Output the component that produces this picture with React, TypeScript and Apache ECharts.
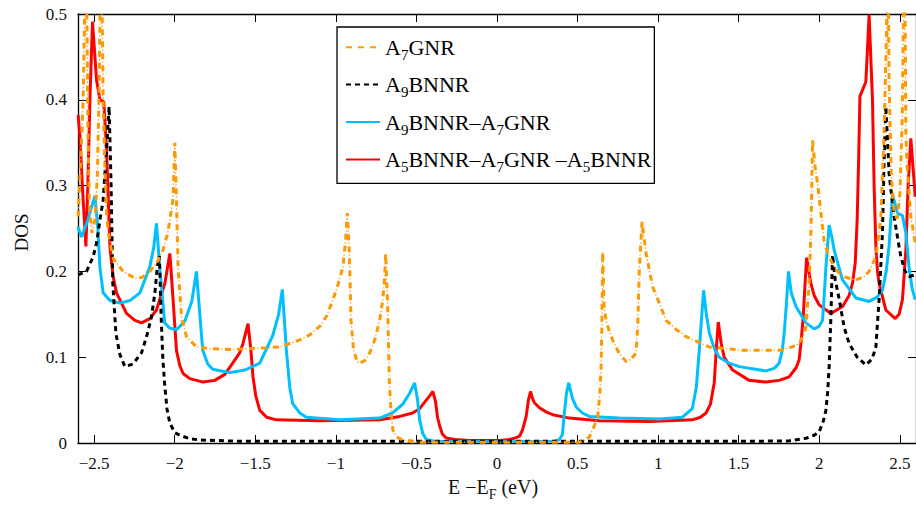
import React, { useEffect, useRef } from "react";
import * as echarts from "echarts";

const FONT = "'Liberation Serif', 'Times New Roman', Times, 'DejaVu Serif', serif";

const energyTicks = [-2.5, -2, -1.5, -1, -0.5, 0, 0.5, 1, 1.5, 2, 2.5];

const seriesNames = ["A7GNR", "A9BNNR", "A9BNNR–A7GNR", "A5BNNR–A7GNR–A5BNNR"];
const legendLabels = [
  "{m|A}{s|7}{m|GNR}",
  "{m|A}{s|9}{m|BNNR}",
  "{m|A}{s|9}{m|BNNR–A}{s|7}{m|GNR}",
  "{m|A}{s|5}{m|BNNR–A}{s|7}{m|GNR –A}{s|5}{m|BNNR}",
];

// A7GNR (orange dash-dot)
const a7gnr: [number, number][] = [
  [-2.599, 0.264], [-2.583, 0.33], [-2.568, 0.4], [-2.557, 0.52], [-2.551, 0.62],
  [-2.545, 0.5], [-2.538, 0.36], [-2.53, 0.28], [-2.514, 0.245], [-2.495, 0.26],
  [-2.48, 0.31], [-2.468, 0.42], [-2.457, 0.62], [-2.444, 0.4], [-2.433, 0.322],
  [-2.423, 0.27], [-2.412, 0.245], [-2.382, 0.215], [-2.32, 0.2], [-2.247, 0.192],
  [-2.204, 0.193], [-2.154, 0.2], [-2.105, 0.212], [-2.072, 0.225], [-2.043, 0.245],
  [-2.03, 0.26], [-2.01, 0.285], [-1.999, 0.35], [-1.989, 0.283], [-1.979, 0.205],
  [-1.958, 0.147], [-1.927, 0.124], [-1.865, 0.112], [-1.782, 0.11], [-1.638, 0.109],
  [-1.431, 0.111], [-1.348, 0.112], [-1.224, 0.12], [-1.162, 0.126], [-1.1, 0.136],
  [-1.057, 0.148], [-1.018, 0.167], [-0.986, 0.185], [-0.956, 0.205], [-0.94, 0.235],
  [-0.929, 0.268], [-0.916, 0.221], [-0.906, 0.143], [-0.89, 0.108], [-0.868, 0.095],
  [-0.852, 0.093], [-0.821, 0.096], [-0.79, 0.105], [-0.759, 0.12], [-0.728, 0.143],
  [-0.71, 0.165], [-0.698, 0.19], [-0.691, 0.221], [-0.679, 0.163], [-0.668, 0.07],
  [-0.657, 0.035], [-0.646, 0.015], [-0.623, 0.007], [-0.584, 0.0035], [-0.511, 0.001],
  [0.511, 0.001], [0.542, 0.003], [0.573, 0.007], [0.604, 0.02], [0.625, 0.031],
  [0.639, 0.06], [0.646, 0.089], [0.651, 0.14], [0.656, 0.223], [0.664, 0.16],
  [0.677, 0.143], [0.697, 0.13], [0.718, 0.12], [0.759, 0.104], [0.801, 0.095],
  [0.834, 0.098], [0.863, 0.105], [0.874, 0.14], [0.883, 0.202], [0.9, 0.258],
  [0.925, 0.221], [0.966, 0.182], [1.007, 0.163], [1.049, 0.143], [1.107, 0.133],
  [1.173, 0.124], [1.255, 0.117], [1.317, 0.112], [1.524, 0.108], [1.751, 0.108],
  [1.832, 0.112], [1.875, 0.116], [1.9, 0.125], [1.917, 0.136], [1.937, 0.186],
  [1.948, 0.245], [1.958, 0.353], [1.975, 0.32], [1.989, 0.303], [2.01, 0.268],
  [2.03, 0.235], [2.061, 0.217], [2.099, 0.203], [2.144, 0.194], [2.227, 0.19],
  [2.278, 0.194], [2.309, 0.2], [2.351, 0.217], [2.371, 0.245], [2.382, 0.264],
  [2.402, 0.361], [2.417, 0.478], [2.424, 0.62], [2.433, 0.42], [2.447, 0.31],
  [2.465, 0.265], [2.485, 0.262], [2.5, 0.29], [2.515, 0.38], [2.523, 0.52],
  [2.529, 0.62], [2.537, 0.361], [2.545, 0.322], [2.568, 0.264], [2.595, 0.233],
];

// A9BNNR (black dashed)
const a9bnnr: [number, number][] = [
  [-2.599, 0.196], [-2.547, 0.2], [-2.506, 0.217], [-2.483, 0.235], [-2.464, 0.26],
  [-2.444, 0.283], [-2.423, 0.342], [-2.407, 0.392], [-2.395, 0.303], [-2.384, 0.186],
  [-2.365, 0.128], [-2.34, 0.103], [-2.309, 0.089], [-2.26, 0.092], [-2.206, 0.105],
  [-2.173, 0.125], [-2.144, 0.147], [-2.123, 0.175], [-2.108, 0.205], [-2.095, 0.218],
  [-2.084, 0.147], [-2.074, 0.1], [-2.063, 0.07], [-2.048, 0.04], [-2.03, 0.023],
  [-1.999, 0.012], [-1.968, 0.009], [-1.906, 0.005], [-1.844, 0.0035], [-1.596, 0.002],
  [1.6, 0.002], [1.813, 0.0025], [1.917, 0.0055], [1.968, 0.009], [1.999, 0.013],
  [2.024, 0.025], [2.041, 0.038], [2.052, 0.06], [2.061, 0.089], [2.072, 0.147],
  [2.082, 0.219], [2.099, 0.19], [2.124, 0.167], [2.154, 0.135], [2.185, 0.116],
  [2.235, 0.1], [2.289, 0.091], [2.328, 0.098], [2.351, 0.112], [2.371, 0.167],
  [2.392, 0.245], [2.402, 0.33], [2.413, 0.392], [2.424, 0.35], [2.433, 0.314],
  [2.464, 0.264], [2.485, 0.24], [2.506, 0.217], [2.533, 0.2], [2.557, 0.194],
  [2.595, 0.196],
];

// A9BNNR–A7GNR (cyan)
const a9bnnrA7gnr: [number, number][] = [
  [-2.601, 0.252], [-2.578, 0.24], [-2.539, 0.26], [-2.495, 0.288], [-2.477, 0.25],
  [-2.464, 0.205], [-2.444, 0.175], [-2.402, 0.166], [-2.34, 0.163], [-2.278, 0.166],
  [-2.216, 0.175], [-2.155, 0.205], [-2.13, 0.228], [-2.113, 0.256], [-2.093, 0.205],
  [-2.062, 0.14], [-2.031, 0.134], [-1.989, 0.132], [-1.937, 0.142], [-1.894, 0.165],
  [-1.865, 0.2], [-1.844, 0.15], [-1.826, 0.108], [-1.795, 0.092], [-1.764, 0.086],
  [-1.658, 0.082], [-1.565, 0.085], [-1.472, 0.093], [-1.392, 0.125], [-1.355, 0.15],
  [-1.332, 0.179], [-1.307, 0.108], [-1.286, 0.065], [-1.268, 0.046], [-1.224, 0.035],
  [-1.183, 0.03], [-0.976, 0.027], [-0.728, 0.029], [-0.648, 0.035], [-0.586, 0.045],
  [-0.542, 0.058], [-0.511, 0.07], [-0.493, 0.05], [-0.48, 0.027], [-0.462, 0.012],
  [-0.439, 0.004], [-0.387, 0.002], [0.0, 0.0015], [0.356, 0.002], [0.387, 0.004],
  [0.406, 0.01], [0.418, 0.035], [0.431, 0.058], [0.445, 0.07], [0.468, 0.052],
  [0.491, 0.042], [0.53, 0.035], [0.573, 0.031], [0.759, 0.029], [1.007, 0.028],
  [1.15, 0.03], [1.212, 0.04], [1.237, 0.065], [1.255, 0.108], [1.271, 0.15],
  [1.282, 0.178], [1.299, 0.15], [1.318, 0.128], [1.349, 0.11], [1.379, 0.1],
  [1.441, 0.093], [1.503, 0.089], [1.669, 0.084], [1.72, 0.087], [1.751, 0.093],
  [1.77, 0.108], [1.782, 0.128], [1.795, 0.16], [1.809, 0.2], [1.826, 0.175],
  [1.855, 0.159], [1.917, 0.14], [1.968, 0.133], [1.999, 0.136], [2.02, 0.143],
  [2.03, 0.17], [2.041, 0.205], [2.061, 0.254], [2.08, 0.238], [2.092, 0.225],
  [2.144, 0.19], [2.227, 0.169], [2.309, 0.165], [2.359, 0.17], [2.392, 0.178],
  [2.415, 0.2], [2.433, 0.23], [2.454, 0.29], [2.485, 0.268], [2.516, 0.265],
  [2.537, 0.245], [2.557, 0.205], [2.576, 0.18], [2.595, 0.167],
];

// A5BNNR–A7GNR–A5BNNR (red)
const a5bnnrA7gnrA5bnnr: [number, number][] = [
  [-2.599, 0.382], [-2.588, 0.357], [-2.57, 0.29], [-2.551, 0.229], [-2.539, 0.3],
  [-2.526, 0.4], [-2.51, 0.491], [-2.485, 0.423], [-2.464, 0.4], [-2.44, 0.398],
  [-2.423, 0.342], [-2.402, 0.229], [-2.383, 0.195], [-2.361, 0.175], [-2.299, 0.151],
  [-2.247, 0.143], [-2.206, 0.14], [-2.154, 0.145], [-2.113, 0.155], [-2.061, 0.186],
  [-2.03, 0.221], [-2.01, 0.167], [-1.989, 0.108], [-1.968, 0.09], [-1.948, 0.081],
  [-1.906, 0.075], [-1.824, 0.071], [-1.751, 0.073], [-1.689, 0.08], [-1.64, 0.093],
  [-1.597, 0.105], [-1.576, 0.116], [-1.545, 0.139], [-1.528, 0.11], [-1.514, 0.077],
  [-1.497, 0.055], [-1.472, 0.038], [-1.429, 0.03], [-1.369, 0.027], [-1.1, 0.026],
  [-0.728, 0.027], [-0.604, 0.031], [-0.524, 0.035], [-0.48, 0.04], [-0.439, 0.05],
  [-0.418, 0.055], [-0.398, 0.06], [-0.381, 0.048], [-0.369, 0.03], [-0.356, 0.02],
  [-0.338, 0.01], [-0.315, 0.006], [-0.263, 0.004], [-0.17, 0.003], [0.016, 0.003],
  [0.077, 0.004], [0.115, 0.006], [0.14, 0.008], [0.158, 0.015], [0.181, 0.031],
  [0.195, 0.05], [0.208, 0.06], [0.22, 0.052], [0.232, 0.047], [0.263, 0.041],
  [0.307, 0.036], [0.346, 0.033], [0.449, 0.029], [0.635, 0.026], [0.945, 0.025],
  [1.212, 0.027], [1.262, 0.03], [1.297, 0.035], [1.324, 0.045], [1.348, 0.07],
  [1.361, 0.11], [1.373, 0.141], [1.392, 0.115], [1.41, 0.1], [1.462, 0.085],
  [1.565, 0.073], [1.669, 0.071], [1.751, 0.073], [1.813, 0.077], [1.857, 0.088],
  [1.875, 0.097], [1.888, 0.12], [1.9, 0.147], [1.921, 0.216], [1.948, 0.186],
  [1.968, 0.172], [1.999, 0.161], [2.072, 0.151], [2.144, 0.159], [2.185, 0.172],
  [2.206, 0.186], [2.223, 0.21], [2.235, 0.26], [2.244, 0.33], [2.252, 0.404],
  [2.289, 0.421], [2.309, 0.499], [2.33, 0.4], [2.34, 0.3], [2.351, 0.229],
  [2.361, 0.2], [2.371, 0.186], [2.413, 0.155], [2.471, 0.145], [2.495, 0.15],
  [2.516, 0.167], [2.537, 0.225], [2.551, 0.3], [2.568, 0.355], [2.582, 0.32],
  [2.595, 0.287],
];

const toMinus = (v: number) => String(v).replace("-", "\u2212");

export default function App() {
  const ref = useRef<HTMLDivElement>(null);
  useEffect(() => {
    if (!ref.current) return;
    const chart = echarts.init(ref.current, null, { renderer: "svg" });
    const axisLine = { show: true, onZero: false, lineStyle: { color: "#000", width: 1.3 } };
    const richSub = {
      m: { fontFamily: FONT, fontSize: 22, color: "#000", lineHeight: 30 },
      s: { fontFamily: FONT, fontSize: 15, color: "#000", lineHeight: 5, verticalAlign: "bottom" },
    };
    const option: any = {
      animation: false,
      backgroundColor: "#fff",
      textStyle: { fontFamily: FONT },
      grid: { left: 78, top: 14, width: 839, height: 429, containLabel: false },
      legend: {
        orient: "vertical",
        left: 337,
        top: 27,
        data: seriesNames,
        itemWidth: 34,
        itemHeight: 14,
        itemGap: 11.4,
        padding: [9.2, 3, 9, 8],
        borderColor: "#000",
        borderWidth: 1.3,
        borderRadius: 0,
        backgroundColor: "#fff",
        itemStyle: { opacity: 0 },
        formatter: (name: string) => legendLabels[seriesNames.indexOf(name)],
        textStyle: { fontFamily: FONT, fontSize: 22, color: "#000", rich: richSub },
      },
      xAxis: [
        {
          type: "value",
          min: -2.6,
          max: 2.6,
          position: "bottom",
          axisLine,
          splitLine: { show: false },
          axisTick: { inside: true, length: 8, customValues: energyTicks, lineStyle: { color: "#000", width: 1 } },
          axisLabel: {
            customValues: energyTicks,
            formatter: (v: number) => toMinus(v),
            fontFamily: FONT,
            fontSize: 17,
            color: "#111",
            margin: 12,
          },
          name: "{m|E −E}{s|F}{m| (eV)}",
          nameLocation: "middle",
          nameGap: 27,
          nameTextStyle: {
            fontFamily: FONT,
            fontSize: 20,
            color: "#111",
            padding: [0, 8, 0, 0],
            rich: {
              m: { fontFamily: FONT, fontSize: 20, color: "#111", lineHeight: 30 },
              s: { fontFamily: FONT, fontSize: 14, color: "#111", lineHeight: 4, verticalAlign: "bottom" },
            },
          },
        },
        {
          type: "value",
          min: -2.6,
          max: 2.6,
          position: "top",
          axisLine,
          splitLine: { show: false },
          axisTick: { inside: true, length: 8, customValues: energyTicks, lineStyle: { color: "#000", width: 1 } },
          axisLabel: { show: false },
        },
      ],
      yAxis: [
        {
          type: "value",
          min: 0,
          max: 0.5,
          interval: 0.1,
          position: "left",
          axisLine,
          splitLine: { show: false },
          axisTick: { inside: true, length: 8, lineStyle: { color: "#000", width: 1 } },
          axisLabel: {
            formatter: (v: number) => String(+v.toFixed(1)),
            fontFamily: FONT,
            fontSize: 17,
            color: "#111",
            margin: 11,
          },
          name: "DOS",
          nameLocation: "middle",
          nameGap: 47,
          nameTextStyle: { fontFamily: FONT, fontSize: 19, color: "#111", padding: [0, 8, 0, 0] },
        },
        {
          type: "value",
          min: 0,
          max: 0.5,
          interval: 0.1,
          position: "right",
          axisLine,
          splitLine: { show: false },
          axisTick: { inside: true, length: 8, lineStyle: { color: "#000", width: 1 } },
          axisLabel: { show: false },
        },
      ],
      series: [
        {
          name: seriesNames[3],
          type: "line",
          data: a5bnnrA7gnrA5bnnr,
          symbol: "none",
          z: 2,
          lineStyle: { color: "#FF0000", width: 3 },
          itemStyle: { color: "#FF0000" },
        },
        {
          name: seriesNames[2],
          type: "line",
          data: a9bnnrA7gnr,
          symbol: "none",
          z: 3,
          lineStyle: { color: "#00BFFF", width: 3 },
          itemStyle: { color: "#00BFFF" },
        },
        {
          name: seriesNames[1],
          type: "line",
          data: a9bnnr,
          symbol: "none",
          z: 4,
          lineStyle: { color: "#000", width: 3, type: [5, 4] },
          itemStyle: { color: "#000" },
        },
        {
          name: seriesNames[0],
          type: "line",
          data: a7gnr,
          symbol: "none",
          z: 5,
          lineStyle: { color: "#FF9900", width: 3, type: [6, 6] },
          itemStyle: { color: "#FF9900" },
        },
        {
          name: "A7GNR dots",
          type: "line",
          data: a7gnr,
          symbol: "none",
          z: 5,
          lineStyle: { color: "#FFA020", width: 1.2, type: [1.5, 10.5], dashOffset: 3.75 },
          itemStyle: { color: "#FF9900" },
        },
      ],
    };
    chart.setOption(option);
    return () => chart.dispose();
  }, []);
  return (
    <div
      ref={ref}
      style={{ position: "fixed", left: 0, top: 0, width: 916, height: 508, background: "#fff" }}
    />
  );
}
